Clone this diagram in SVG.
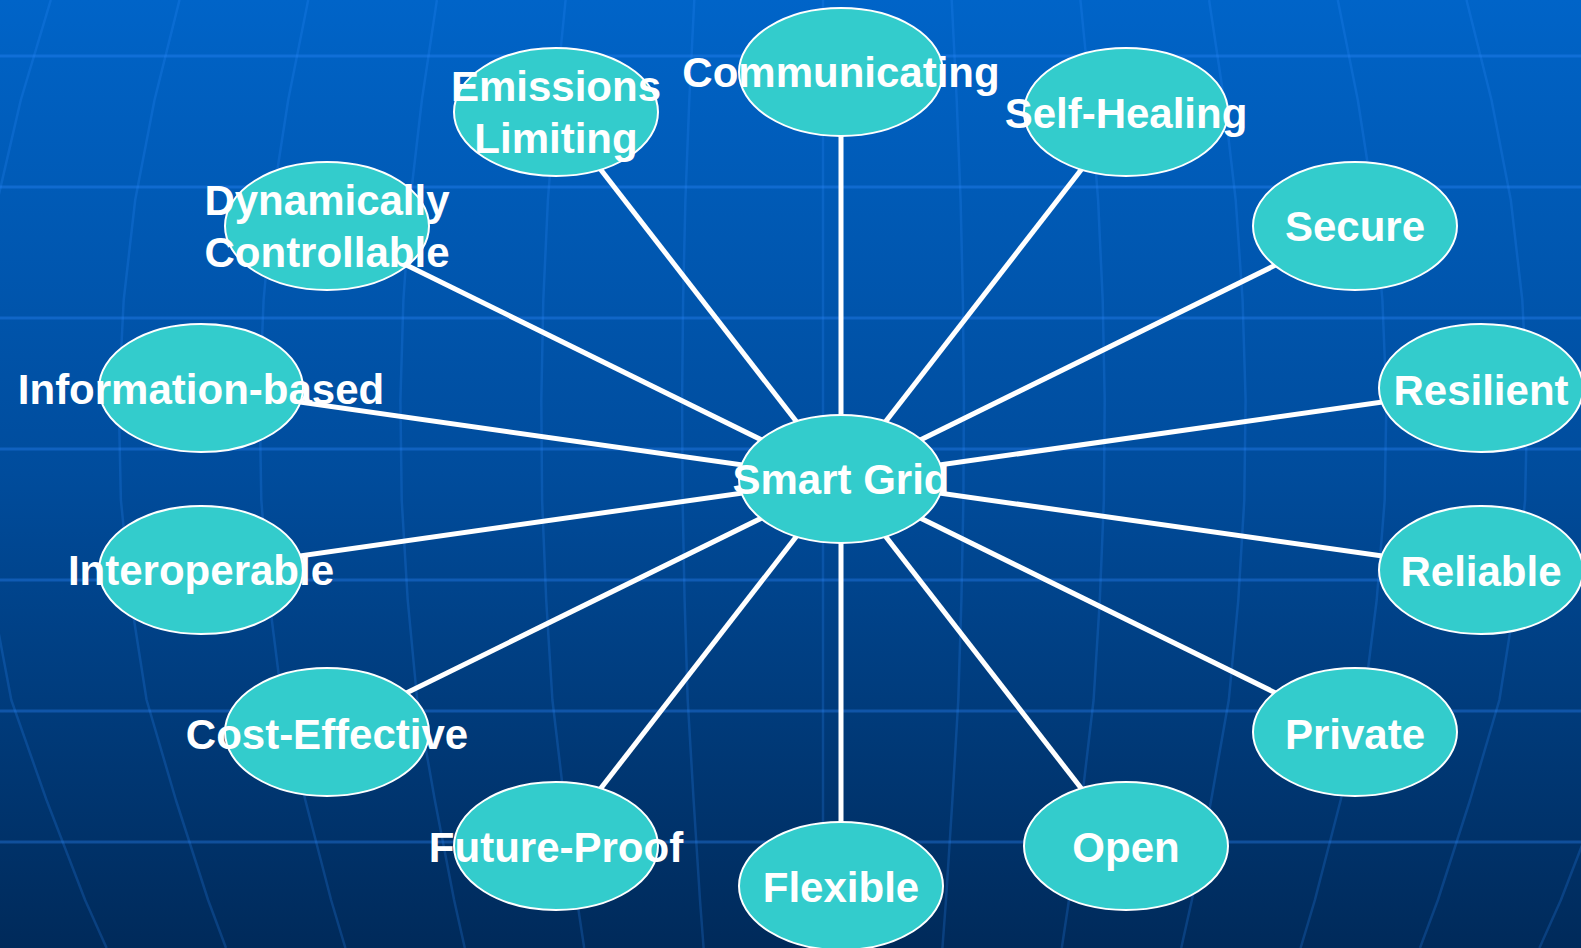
<svg xmlns="http://www.w3.org/2000/svg" width="1581" height="948" viewBox="0 0 1581 948">
<defs>
<linearGradient id="bg" x1="0" y1="0" x2="0" y2="1">
<stop offset="0" stop-color="#0064C8"/>
<stop offset="0.5" stop-color="#004C9C"/>
<stop offset="1" stop-color="#002A5A"/>
</linearGradient>
<style>
.hz{stroke:#2E8BFF;stroke-opacity:0.34;stroke-width:3;fill:none}
.mer{stroke:#2E8BFF;stroke-opacity:0.22;stroke-width:2.5;fill:none;stroke-linejoin:round}
.conn{stroke:#FFFFFF;stroke-width:5;fill:none}
.node ellipse{fill:#33CCCC;stroke:#FFFFFF;stroke-width:2}
.node text{font-family:"Liberation Sans",Arial,sans-serif;font-weight:bold;font-size:42px;fill:#FFFFFF;text-anchor:middle}
</style>
</defs>
<rect x="0" y="0" width="1581" height="948" fill="url(#bg)"/>
<g id="background-grid">
<line class="hz" x1="0" y1="56" x2="1581" y2="56"/>
<line class="hz" x1="0" y1="187" x2="1581" y2="187"/>
<line class="hz" x1="0" y1="318" x2="1581" y2="318"/>
<line class="hz" x1="0" y1="449" x2="1581" y2="449"/>
<line class="hz" x1="0" y1="580" x2="1581" y2="580"/>
<line class="hz" x1="0" y1="711" x2="1581" y2="711"/>
<line class="hz" x1="0" y1="842" x2="1581" y2="842"/>
<polyline class="mer" points="50.8,0 20.8,100 -2.4,200 -16.1,300 -22.1,400 -19.6,500 -7.5,600 11.3,700 46.5,800 85.1,900 106.6,948"/>
<polyline class="mer" points="179.5,0 154.5,100 135.2,200 123.7,300 118.7,400 120.9,500 130.9,600 146.6,700 175.9,800 208.1,900 226,948"/>
<polyline class="mer" points="308.2,0 288.2,100 272.7,200 263.6,300 259.6,400 261.3,500 269.3,600 281.9,700 305.3,800 331.1,900 345.4,948"/>
<polyline class="mer" points="436.9,0 421.9,100 410.3,200 403.4,300 400.4,400 401.7,500 407.7,600 417.2,700 434.8,800 454.1,900 464.8,948"/>
<polyline class="mer" points="565.6,0 555.6,100 547.9,200 543.3,300 541.3,400 542.1,500 546.2,600 552.4,700 564.2,800 577,900 584.2,948"/>
<polyline class="mer" points="694.3,0 689.3,100 685.4,200 683.1,300 682.1,400 682.6,500 684.6,600 687.7,700 693.6,800 700,900 703.6,948"/>
<polyline class="mer" points="823,0 823,948"/>
<polyline class="mer" points="951.7,0 956.7,100 960.6,200 962.9,300 963.9,400 963.4,500 961.4,600 958.3,700 952.4,800 946,900 942.4,948"/>
<polyline class="mer" points="1080.4,0 1090.4,100 1098.1,200 1102.7,300 1104.7,400 1103.9,500 1099.8,600 1093.6,700 1081.8,800 1069,900 1061.8,948"/>
<polyline class="mer" points="1209.1,0 1224.1,100 1235.7,200 1242.6,300 1245.6,400 1244.3,500 1238.3,600 1228.8,700 1211.2,800 1191.9,900 1181.2,948"/>
<polyline class="mer" points="1337.8,0 1357.8,100 1373.3,200 1382.4,300 1386.4,400 1384.7,500 1376.7,600 1364.1,700 1340.7,800 1314.9,900 1300.6,948"/>
<polyline class="mer" points="1466.5,0 1491.5,100 1510.8,200 1522.3,300 1527.3,400 1525.1,500 1515.1,600 1499.4,700 1470.1,800 1437.9,900 1420,948"/>
<polyline class="mer" points="1595.2,0 1625.2,100 1648.4,200 1662.1,300 1668.1,400 1665.6,500 1653.5,600 1634.7,700 1599.5,800 1560.9,900 1539.4,948"/>
</g>
<g id="connectors">
<line class="conn" x1="841" y1="479" x2="841" y2="72"/>
<line class="conn" x1="841" y1="479" x2="556" y2="112"/>
<line class="conn" x1="841" y1="479" x2="1126" y2="112"/>
<line class="conn" x1="841" y1="479" x2="327" y2="226"/>
<line class="conn" x1="841" y1="479" x2="1355" y2="226"/>
<line class="conn" x1="841" y1="479" x2="201" y2="388"/>
<line class="conn" x1="841" y1="479" x2="1481" y2="388"/>
<line class="conn" x1="841" y1="479" x2="201" y2="570"/>
<line class="conn" x1="841" y1="479" x2="1481" y2="570"/>
<line class="conn" x1="841" y1="479" x2="327" y2="732"/>
<line class="conn" x1="841" y1="479" x2="1355" y2="732"/>
<line class="conn" x1="841" y1="479" x2="556" y2="846"/>
<line class="conn" x1="841" y1="479" x2="1126" y2="846"/>
<line class="conn" x1="841" y1="479" x2="841" y2="886"/>
</g>
<g id="node-communicating" class="node"><ellipse cx="841" cy="72" rx="102" ry="64"/><text x="841" y="87">Communicating</text></g>
<g id="node-emissions-limiting" class="node"><ellipse cx="556" cy="112" rx="102" ry="64"/><text x="556" y="101">Emissions</text><text x="556" y="153">Limiting</text></g>
<g id="node-self-healing" class="node"><ellipse cx="1126" cy="112" rx="102" ry="64"/><text x="1126" y="128">Self-Healing</text></g>
<g id="node-dynamically-controllable" class="node"><ellipse cx="327" cy="226" rx="102" ry="64"/><text x="327" y="215">Dynamically</text><text x="327" y="267">Controllable</text></g>
<g id="node-secure" class="node"><ellipse cx="1355" cy="226" rx="102" ry="64"/><text x="1355" y="241">Secure</text></g>
<g id="node-information-based" class="node"><ellipse cx="201" cy="388" rx="102" ry="64"/><text x="201" y="404">Information-based</text></g>
<g id="node-resilient" class="node"><ellipse cx="1481" cy="388" rx="102" ry="64"/><text x="1481" y="405">Resilient</text></g>
<g id="node-interoperable" class="node"><ellipse cx="201" cy="570" rx="102" ry="64"/><text x="201" y="585">Interoperable</text></g>
<g id="node-reliable" class="node"><ellipse cx="1481" cy="570" rx="102" ry="64"/><text x="1481" y="586">Reliable</text></g>
<g id="node-cost-effective" class="node"><ellipse cx="327" cy="732" rx="102" ry="64"/><text x="327" y="749">Cost-Effective</text></g>
<g id="node-private" class="node"><ellipse cx="1355" cy="732" rx="102" ry="64"/><text x="1355" y="749">Private</text></g>
<g id="node-future-proof" class="node"><ellipse cx="556" cy="846" rx="102" ry="64"/><text x="556" y="862">Future-Proof</text></g>
<g id="node-open" class="node"><ellipse cx="1126" cy="846" rx="102" ry="64"/><text x="1126" y="862">Open</text></g>
<g id="node-flexible" class="node"><ellipse cx="841" cy="886" rx="102" ry="64"/><text x="841" y="902">Flexible</text></g>
<g id="node-smart-grid" class="node"><ellipse cx="841" cy="479" rx="102" ry="64"/><text x="841" y="494">Smart Grid</text></g>
</svg>
